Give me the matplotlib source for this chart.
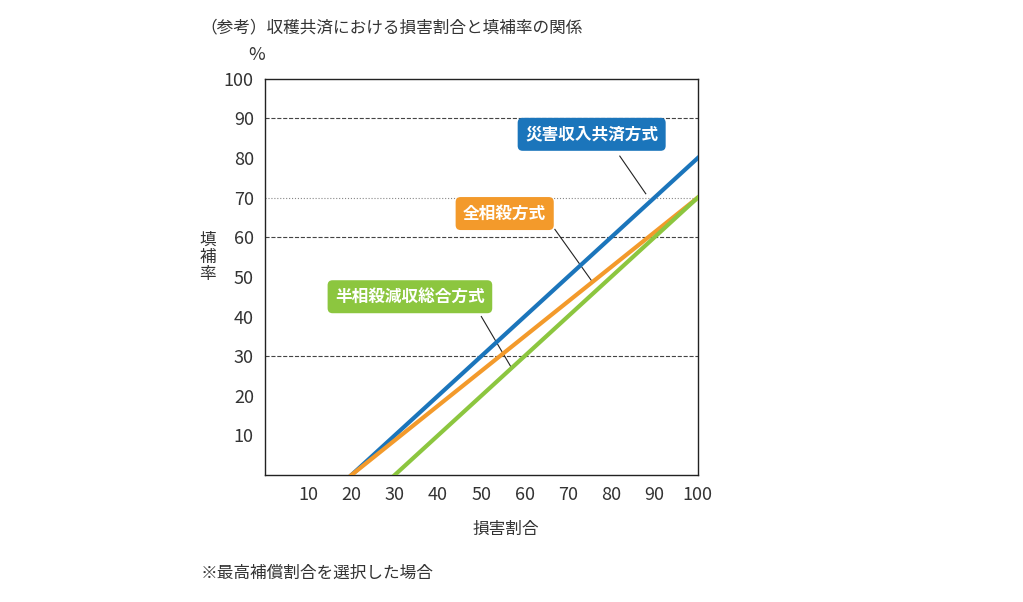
import matplotlib.pyplot as plt

plt.rcParams['font.family'] = 'Noto Sans CJK JP'

x_ticks = [10, 20, 30, 40, 50, 60, 70, 80, 90, 100]
y_ticks = [10, 20, 30, 40, 50, 60, 70, 80, 90, 100]

# loss ratio -> compensation rate
blue_x, blue_y = [20, 100], [0, 80]
orange_x, orange_y = [20, 100], [0, 70]
green_x, green_y = [30, 100], [0, 70]

names = ['災害収入共済方式', '全相殺方式', '半相殺減収総合方式']
colors = ['#1b75bb', '#f39a2b', '#8cc63f']

fig = plt.figure(figsize=(10.23, 6.02), dpi=100)
ax = fig.add_axes([0.259, 0.211, 0.423, 0.658])

for g, ls, lc in [(30, '--', '#444444'), (60, '--', '#444444'), (70, ':', '#888888'), (90, '--', '#444444')]:
    ax.axhline(g, color=lc, linestyle=ls, linewidth=0.8, zorder=1)

ax.plot(blue_x, blue_y, color=colors[0], linewidth=3, zorder=3)
ax.plot(orange_x, orange_y, color=colors[1], linewidth=3, zorder=3)
ax.plot(green_x, green_y, color=colors[2], linewidth=3, zorder=3)

# labels with leader lines
labels = [(75.5, 86, 88, 71, 82, 80.5),
          (55.4, 66, 75.5, 49, 67, 62),
          (33.5, 45, 57, 27, 50, 40)]
for (tx, ty, px, py, lx, ly), name, c in zip(labels, names, colors):
    ax.plot([lx, px], [ly, py], color='#222222', linewidth=0.8, zorder=2)
    ax.text(tx, ty, name, color='white', fontsize=12, fontweight='bold',
            ha='center', va='center', zorder=4,
            bbox=dict(boxstyle='round,pad=0.45,rounding_size=0.3', fc=c, ec='none'))

ax.set_xlim(0, 100)
ax.set_ylim(0, 100)
ax.set_xticks(x_ticks)
ax.set_yticks(y_ticks)
ax.tick_params(length=0, labelsize=13, colors='#333333', pad=8)
for s in ax.spines.values():
    s.set_color('#222222')
    s.set_linewidth(1)

fig.text(0.196, 0.953, '（参考）収穫共済における損害割合と填補率の関係', fontsize=12, color='#333333', va='center')
fig.text(0.251, 0.908, '%', fontsize=13, color='#333333', va='center', ha='center')
fig.text(0.203, 0.572, '填\n補\n率', fontsize=12, color='#333333', va='center', ha='center', linespacing=1.0)
fig.text(0.494, 0.12, '損害割合', fontsize=12, color='#333333', va='center', ha='center')
fig.text(0.196, 0.048, '※最高補償割合を選択した場合', fontsize=12, color='#333333', va='center')

fig.savefig('out.png', dpi=100)
